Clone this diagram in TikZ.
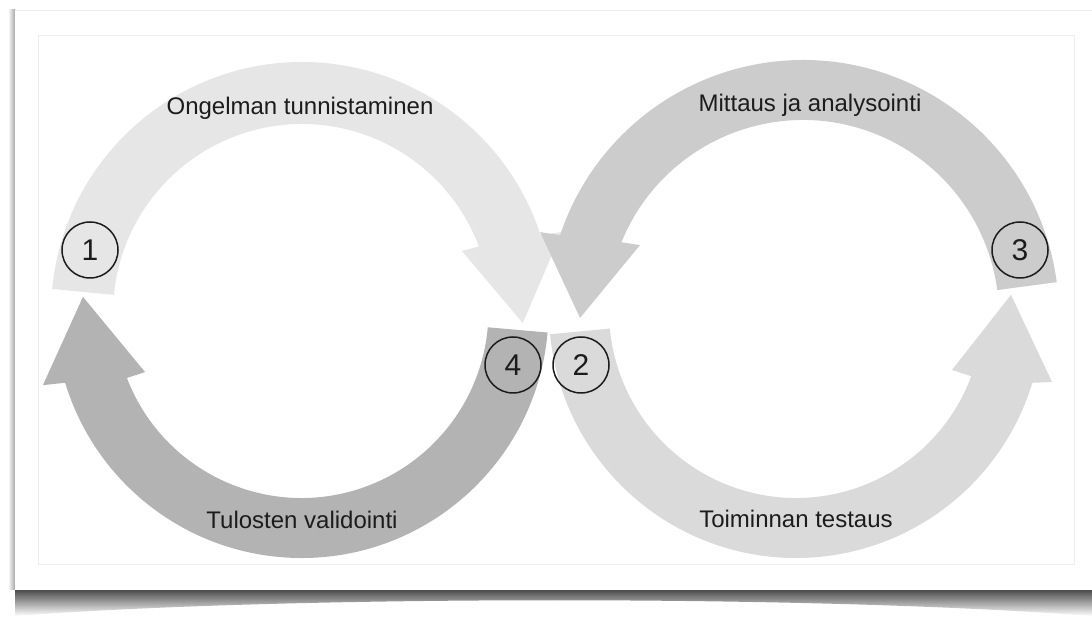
\documentclass[tikz,border=0pt]{standalone}
\usepackage{fontspec}
\setmainfont{Liberation Sans}
\usetikzlibrary{calc}
\definecolor{bandA}{HTML}{E6E6E6}
\definecolor{bandB}{HTML}{DADADA}
\definecolor{bandC}{HTML}{CCCCCC}
\definecolor{bandD}{HTML}{B3B3B3}
\definecolor{inkdark}{HTML}{1C1C1C}
\begin{document}
\begin{tikzpicture}[x=1pt,y=1pt,
  titletext/.style={font=\fontsize{24}{28}\selectfont, text=inkdark, anchor=base, inner sep=0pt},
  stepmark/.style={circle, draw=inkdark, line width=1.5pt, minimum size=56pt, inner sep=0pt,
                   font=\fontsize{30}{34}\selectfont, text=inkdark}]
\useasboundingbox (0,0) rectangle (1092,621);
\fill[white] (0,0) rectangle (1092,621);

% page card with curled shadow
\shade[top color=black!70, bottom color=white]
  (15,31) -- (1092,31) -- (1092,5) .. controls (820,26) and (290,26) .. (15,5) -- cycle;
\shade[left color=white, right color=black!35] (8,31) rectangle (15,611);
\fill[white] (15,31) rectangle (1092,611);
\draw[black!8, line width=0.8pt] (15,611) -- (1092,611);
\draw[black!7, line width=0.8pt] (38,57) rectangle (1074,586);

% loop centres
\coordinate (c1) at (302,308);
\coordinate (c4) at (301.5,310);
\coordinate (c3) at (803,305);
\coordinate (c2) at (796,310);

% upper left: from 1 over the top, head pointing down
\fill[bandA] ($(c1)+(174.5:251pt)$) arc[start angle=174.5, end angle=18.1, radius=251pt]
  -- ($(c1)+(17.3:272pt)$) -- ($(c1)+(-2.6:221pt)$) -- ($(c1)+(21.2:171.6pt)$)
  -- ($(c1)+(20.6:189pt)$) arc[start angle=20.6, end angle=174.5, radius=189pt] -- cycle;

% lower right: from 2 under the bottom, head pointing up
\fill[bandB] ($(c2)+(185.4:247pt)$) arc[start angle=185.4, end angle=343.1, radius=247pt]
  -- ($(c2)+(344.5:265.7pt)$) -- ($(c2)+(364.3:215.6pt)$) -- ($(c2)+(339.3:166.8pt)$)
  -- ($(c2)+(339.6:187pt)$) arc[start angle=339.6, end angle=185.4, radius=187pt] -- cycle;

% lower left: from 4 under the bottom, head pointing up
\fill[bandD] ($(c4)+(-5:247pt)$) arc[start angle=-5, end angle=-163.1, radius=247pt]
  -- ($(c4)+(-164:269pt)$) -- ($(c4)+(-183.7:219pt)$) -- ($(c4)+(-158.7:168pt)$)
  -- ($(c4)+(-159:187pt)$) arc[start angle=-159, end angle=-5, radius=187pt] -- cycle;

% upper right: from 3 over the top, head pointing down
\fill[bandC] ($(c3)+(7.6:256pt)$) arc[start angle=7.6, end angle=161.6, radius=256pt]
  -- ($(c3)+(162.3:276pt)$) -- ($(c3)+(180.5:223pt)$) -- ($(c3)+(156.5:177.8pt)$)
  -- ($(c3)+(157.9:196pt)$) arc[start angle=157.9, end angle=7.6, radius=196pt] -- cycle;

% step labels
\node[titletext] (t1) at (300,506) {Ongelman tunnistaminen};
\node[titletext] (t3) at (810,509) {Mittaus ja analysointi};
\node[titletext] (t2) at (796,93) {Toiminnan testaus};
\node[titletext] (t4) at (302,92) {Tulosten validointi};

% step numbers
\node[stepmark] (n1) at (90,371) {1};
\node[stepmark] (n3) at (1020,371) {3};
\node[stepmark] (n4) at (513,256) {4};
\node[stepmark] (n2) at (581,256) {2};
\end{tikzpicture}
\end{document}
